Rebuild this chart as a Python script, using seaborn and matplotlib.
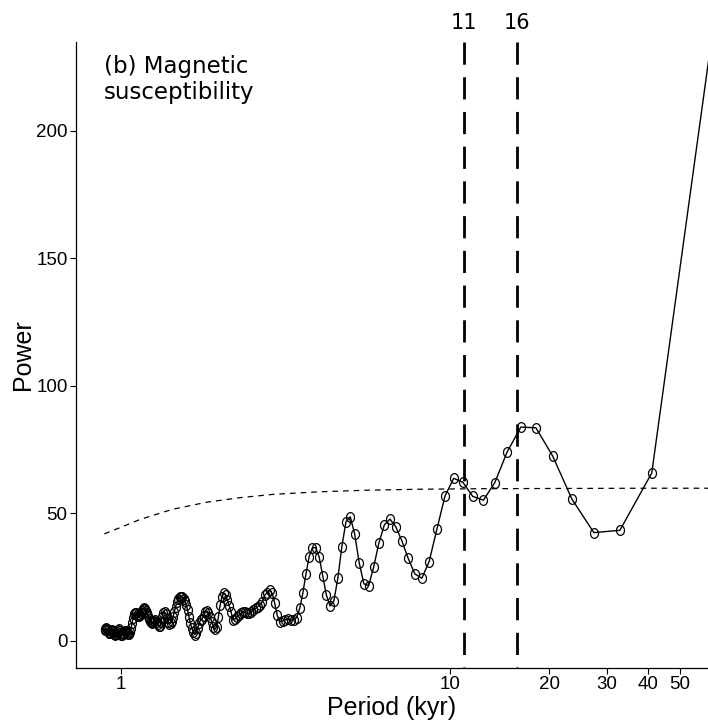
import matplotlib
matplotlib.use("Agg")
import matplotlib.pyplot as plt
import matplotlib.transforms as mtransforms
import numpy as np
import pandas as pd
import seaborn as sns
from matplotlib.path import Path
from matplotlib.ticker import FixedLocator, NullLocator, FixedFormatter

# ---------------- data ----------------
record_length = 164.2  # kyr; Fourier periods = record_length / harmonic
harmonic = [2] + list(range(4, 185))
power = [
    348.0,                                                     # k=2 (off-scale)
    65.9, 43.4, 42.5, 55.7, 72.5, 83.6, 83.9, 74.2, 62.1, 55.2,  # k=4..13
    56.7, 62.2, 63.8, 56.9, 43.8, 31.1, 24.6, 26.3, 32.4, 39.3,  # k=14..23
    44.8, 47.8, 45.5, 38.5, 29.1, 21.7, 22.4, 30.7, 42.0, 48.7,  # k=24..33
    46.8, 37.0, 24.6, 15.7, 13.7, 18.0, 25.6, 32.8, 36.6, 36.6,  # k=34..43
    33.1, 26.2, 18.7, 12.8, 9.2, 8.4, 8.2, 8.5, 8.3, 7.8,        # k=44..53
    7.6, 10.0, 14.8, 18.7, 20.0, 19.0, 18.0, 15.4, 14.3, 13.5,   # k=54..63
    12.8, 12.2, 11.5, 10.8, 10.8, 11.2, 11.5, 10.8, 10.0, 9.5,   # k=64..73
    8.5, 8.2, 11.5, 13.8, 16.0, 18.0, 18.7, 17.4, 14.1, 9.5,     # k=74..83
    5.6, 4.6, 5.5, 7.6, 9.5, 11.0, 11.8, 11.5, 9.8, 8.8,         # k=84..93
    8.2, 7.0, 5.0, 3.0, 2.5, 3.5, 5.0, 7.0, 9.5, 12.0,           # k=94..103
    14.0, 15.5, 16.5, 17.2, 17.4, 17.2, 16.5, 15.2, 13.5, 11.5,  # k=104..113
    9.5, 8.0, 7.0, 6.8, 7.5, 9.0, 10.5, 11.5, 11.0, 9.5,         # k=114..123
    7.5, 6.0, 5.8, 6.5, 7.5, 8.2, 8.0, 7.5, 7.2, 7.5,            # k=124..133
    8.0, 8.8, 9.8, 10.8, 11.8, 12.5, 12.8, 12.5, 11.8, 11.0,     # k=134..143
    10.2, 9.8, 9.8, 10.2, 10.8, 11.0, 10.5, 9.0, 7.0, 5.0,       # k=144..153
    3.5, 2.8, 2.6, 3.0, 3.6, 4.0, 3.8, 3.2, 2.6, 2.3,            # k=154..163
    2.5, 3.2, 4.0, 4.5, 4.2, 3.5, 2.8, 2.5, 2.8, 3.5,            # k=164..173
    4.0, 4.2, 3.8, 3.2, 3.0, 3.5, 4.3, 4.8, 5.0, 4.8,            # k=174..183
    4.3,                                                       # k=184
]

# red-noise significance curve
noise_period = [0.89, 1.0, 1.14, 1.43, 1.82, 2.3, 2.9, 4.0, 5.5, 8.0, 12.0, 20.0, 40.0, 62.0]
noise_power = [42.0, 44.6, 47.6, 51.6, 54.4, 56.2, 57.5, 58.5, 59.1, 59.5, 59.7, 59.8, 59.9, 59.9]

marked_periods = [11, 16]
xtick_values = [1, 10, 20, 30, 40, 50]
ytick_values = [0, 50, 100, 150, 200]

df = pd.DataFrame({"period": [record_length / k for k in harmonic], "power": power})
noise_df = pd.DataFrame({"period": noise_period, "power": noise_power})

# slightly tall open-ellipse marker (as in the reference)
_t = np.linspace(0, 2 * np.pi, 41)
ellipse_marker = Path(np.column_stack([0.82 * np.cos(_t), np.sin(_t)]), closed=True)

# ---------------- style ----------------
sns.set_theme(style="ticks")
plt.rcParams["font.family"] = ["Liberation Sans", "DejaVu Sans"]
plt.rcParams["text.color"] = "black"
plt.rcParams["axes.labelcolor"] = "black"

W, H = 708, 722
fig = plt.figure(figsize=(W / 100, H / 100), dpi=100)
ax = fig.add_axes([76 / W, (H - 668) / H, (W - 76) / W, (668 - 42) / H])

sns.lineplot(data=noise_df, x="period", y="power", ax=ax, color="black",
             linewidth=0.9, dashes=False, linestyle=(0, (4.5, 4.0)))
sns.lineplot(data=df, x="period", y="power", ax=ax, color="black",
             linewidth=1.0, marker=ellipse_marker, markersize=7.0,
             markerfacecolor="none", markeredgecolor="black",
             markeredgewidth=0.9)

vtrans = mtransforms.blended_transform_factory(ax.transData, ax.transAxes)
for p in marked_periods:
    # drawn from the top down so the dash pattern starts at the top edge
    ax.plot([p, p], [1.0, 0.0], transform=vtrans, color="black",
            linewidth=2.0, linestyle=(0, (8, 4.5)), clip_on=False)
    ax.annotate(str(p), xy=(p, 1.0), xycoords=("data", "axes fraction"),
                xytext=(0, 14), textcoords="offset points", ha="center",
                va="center", fontsize=15, family="DejaVu Sans",
                color="black", annotation_clip=False)

ax.set_xscale("log")
ax.set_xlim(0.730, 60.84)
ax.set_ylim(-10.6, 234.9)
ax.xaxis.set_major_locator(FixedLocator(xtick_values))
ax.xaxis.set_major_formatter(FixedFormatter([str(v) for v in xtick_values]))
ax.xaxis.set_minor_locator(NullLocator())
ax.yaxis.set_major_locator(FixedLocator(ytick_values))

ax.set_xlabel("Period (kyr)", fontsize=18, labelpad=2, color="black")
ax.set_ylabel("Power", fontsize=18, labelpad=1, color="black")
ax.tick_params(axis="both", labelsize=13.5, length=4, width=0.8, color="black",
               labelcolor="black", pad=2)
for s in ["top", "right"]:
    ax.spines[s].set_visible(False)
for s in ["left", "bottom"]:
    ax.spines[s].set_linewidth(0.9)
    ax.spines[s].set_color("black")

fig.text(104 / W, 1 - 55 / H, "(b) Magnetic\nsusceptibility", fontsize=16.5,
         family="DejaVu Sans", ha="left", va="top", linespacing=1.15,
         color="black")

fig.savefig("out.png", dpi=100)
